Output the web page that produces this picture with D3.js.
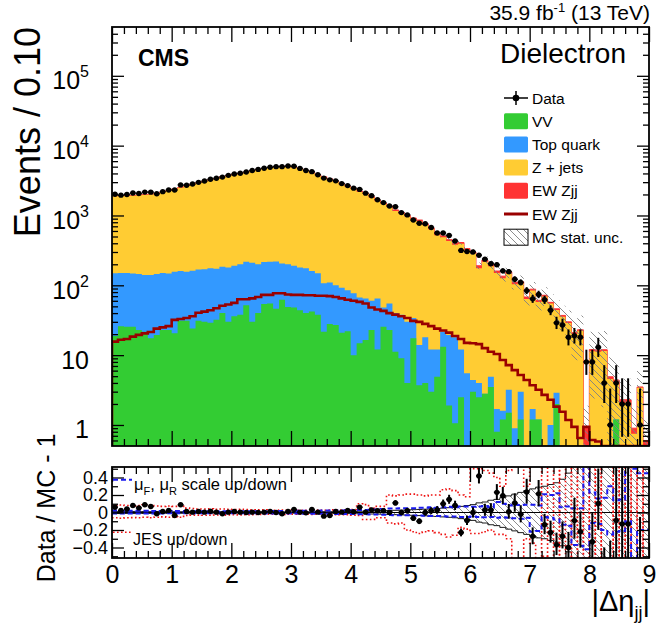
<!DOCTYPE html>
<html>
<head>
<meta charset="utf-8">
<script src="https://cdn.jsdelivr.net/npm/d3@7/dist/d3.min.js"></script>
<style>
  html, body { margin: 0; padding: 0; background: #ffffff; }
  svg { display: block; font-family: "Liberation Sans", Arial, Helvetica, sans-serif; }
</style>
</head>
<body>
<svg id="chart" width="658" height="628"></svg>
<script>
// |Δη_jj| distribution, dielectron channel: 90 bins of width 0.1 between 0 and 9
const etaRange = [0, 9];
const binWidth = 0.1;

// Observed events per bin
const dataCounts = [
  2014, 1954, 2002, 2095, 2064, 2160, 2159, 2049, 2194, 2322,
  2318, 2742, 2709, 2821, 2982, 3112, 3299, 3414, 3546, 3755,
  3923, 4026, 4190, 4398, 4570, 4749, 4903, 5000, 5004, 5106,
  5067, 4719, 4412, 4239, 3835, 3430, 3236, 3134, 2861, 2680,
  2464, 2364, 2088, 1916, 1683, 1530, 1370, 1332, 1100, 1020,
  860, 774, 760, 673, 561, 561, 518, 432, 316, 305,
  300, 270, 237, 204, 197, 161, 157, 122, 110, 84,
  64, 74, 62, 44, 29, 27, 18, 19, 18, 8,
  8, 13, 4, 1, 4, 2, 2, 0, 1, 0
];

// Diboson
const vvYield = [
  18.8, 26, 25.5, 25.5, 23, 21.7, 17.4, 19.5, 23, 23,
  20.5, 31, 31, 24, 31, 30, 29, 32, 40, 30,
  36, 38, 52, 30, 40, 54, 55, 46, 62, 49,
  48, 44, 40, 42, 38, 21.7, 28, 27, 21, 22,
  10, 14.8, 16.5, 23, 12, 25.5, 23, 11.2, 9, 4,
  17.4, 3.7, 4, 3, 4.9, 13.2, 1.9, 1.06, 2.5, 0,
  3, 2.5, 2.8, 3.5, 0.8, 1.2, 1.5, 0, 1.2, 0,
  1.2, 1.2, 0, 0, 2, 0, 0, 0, 0, 0,
  0, 0, 0, 0, 1.2, 0, 0, 0, 0, 0
];

// Top quark (tt + single top)
const topYield = [
  130, 124, 124.5, 122.5, 122, 119.3, 123.6, 125.5, 127, 125,
  136.5, 129, 126, 138, 137, 140, 146, 140, 145, 150,
  154, 162, 166, 180, 160, 161, 163, 174, 144, 151,
  142, 136, 135, 118, 111, 85, 82, 73, 71, 63,
  67, 52, 48.5, 37, 53, 22.5, 32, 28.8, 29, 26,
  16.6, 10.3, 14, 9, 7.1, 8.5, 17.6, 17, 9.5, 5.5,
  1.4, 1.5, 0, 1.4, 0.9, 0.4, 1.7, 0.9, 1.8, 0,
  0.5, 0, 0, 1.0, 0.9, 0, 0, 0, 0, 0,
  0, 0, 0, 0, 0, 0, 0, 0, 0, 0
];

// Drell-Yan Z + jets
const zjetsYield = [
  1735, 1743, 1758, 1774, 1796, 1824, 1858, 1911, 1995, 2096,
  2211, 2327, 2489, 2612, 2742, 2888, 3031, 3181, 3364, 3507,
  3634, 3747, 3909, 4105, 4302, 4442, 4559, 4703, 4797, 4776,
  4637, 4447, 4183, 3868, 3600, 3402, 3170, 2932, 2693, 2473,
  2303, 2105, 1960, 1752, 1540, 1409, 1275, 1122, 1026, 936,
  855, 816, 714, 622, 509, 466, 410, 363, 381, 315,
  281, 172, 215, 182, 148, 125, 145, 103, 104, 63.6,
  82.6, 56.6, 69.3, 53.7, 41.3, 35.5, 28.8, 20, 22.4, 0,
  11.4, 11.2, 11.5, 4.55, 2.9, 2.05, 2.1, 0.75, 3.4, 0.5
];

// Electroweak Zjj signal
const ewZjjYield = [
  15.6, 16.6, 17, 18.4, 19.5, 20.5, 21.5, 24, 25, 26,
  32, 33, 34, 36, 40.5, 42, 44, 47, 51, 53,
  56, 63, 63, 65, 68, 73, 73, 77, 77, 74,
  73, 73, 72, 72, 71, 71, 70, 68, 65, 62,
  60, 58, 55, 48, 45, 43, 40, 38, 36, 34,
  31, 30, 28, 26, 24, 22.5, 21, 18.8, 17, 15,
  14.8, 14.4, 12.6, 11.2, 10.4, 8.5, 7.2, 6.1, 5.2, 4.4,
  3.7, 3.2, 2.7, 2.3, 1.83, 1.55, 1.18, 0.94, 0.65, 0.94,
  0.61, 0.58, 0.45, 0.35, 0.3, 0.25, 0.2, 0.15, 0.1, 0.1
];

// Relative MC statistical uncertainty of the total prediction
const mcStatRel = [
  0.012, 0.012, 0.011, 0.012, 0.011, 0.011, 0.01, 0.01, 0.01, 0.01,
  0.009, 0.009, 0.009, 0.008, 0.008, 0.008, 0.008, 0.008, 0.008, 0.008,
  0.008, 0.008, 0.008, 0.007, 0.007, 0.007, 0.007, 0.007, 0.007, 0.007,
  0.008, 0.008, 0.008, 0.009, 0.009, 0.01, 0.01, 0.011, 0.012, 0.012,
  0.013, 0.014, 0.015, 0.017, 0.018, 0.02, 0.022, 0.025, 0.027, 0.03,
  0.032, 0.035, 0.038, 0.042, 0.045, 0.05, 0.055, 0.06, 0.07, 0.08,
  0.09, 0.11, 0.12, 0.14, 0.15, 0.17, 0.19, 0.21, 0.23, 0.25,
  0.27, 0.29, 0.3, 0.32, 0.34, 0.38, 0.45, 0.6, 0.6, 1.0,
  0.8, 0.8, 0.85, 0.9, 0.9, 1.0, 1.0, 1.0, 0.7, 1.0
];

// mu_F, mu_R scale variations (relative to nominal)
const scaleUpRel = [
  0.022, 0.02, 0.021, 0.02, 0.019, 0.02, 0.018, 0.017, 0.018, 0.017,
  0.016, 0.016, 0.015, 0.015, 0.014, 0.015, 0.014, 0.014, 0.015, 0.014,
  0.014, 0.015, 0.014, 0.014, 0.015, 0.015, 0.016, 0.016, 0.017, 0.018,
  0.018, 0.019, 0.02, 0.02, 0.021, 0.022, 0.022, 0.023, 0.024, 0.025,
  0.026, 0.028, 0.03, 0.032, 0.035, 0.04, 0.045, 0.045, 0.05, 0.05,
  0.05, 0.055, 0.055, 0.06, 0.055, 0.06, 0.065, 0.06, 0.07, 0.07,
  0.065, 0.07, 0.075, 0.06, 0.12, 0.1, 0.08, 0.09, 0.085, 0.09,
  0.09, 0.08, 0.21, 0.2, 0.22, 0.06, 0.07, 0.05, 0.05, 0.65,
  0.23, 0.16, 0.17, 0.3, 0.14, 0.15, 0.6, 0.5, 0.45, 0.45
];
const scaleDownRel = [
  -0.012, -0.01, -0.011, -0.01, -0.01, -0.011, -0.01, -0.009, -0.01, -0.009,
  -0.009, -0.009, -0.008, -0.008, -0.008, -0.008, -0.008, -0.008, -0.009, -0.008,
  -0.008, -0.009, -0.008, -0.009, -0.009, -0.01, -0.01, -0.01, -0.011, -0.011,
  -0.012, -0.012, -0.013, -0.013, -0.014, -0.015, -0.015, -0.016, -0.017, -0.018,
  -0.018, -0.02, -0.02, -0.022, -0.024, -0.025, -0.028, -0.03, -0.03, -0.032,
  -0.035, -0.035, -0.038, -0.04, -0.04, -0.042, -0.045, -0.045, -0.05, -0.05,
  -0.045, -0.05, -0.055, -0.05, -0.06, -0.055, -0.06, -0.065, -0.07, -0.06,
  -0.22, -0.21, -0.05, -0.06, -0.08, -0.14, -0.15, -0.37, -0.38, -0.42,
  -0.12, -0.13, -0.2, -0.25, -0.22, -0.21, -0.1, -0.6, -0.2, -0.2
];

// Jet energy scale variations (relative to nominal)
const jesUpRel = [
  0.08, 0.085, 0.08, 0.075, 0.08, 0.085, 0.08, 0.075, 0.07, 0.075,
  0.07, 0.075, 0.05, 0.045, 0.04, 0.04, 0.042, 0.038, 0.04, 0.036,
  0.035, 0.038, 0.035, 0.032, 0.03, 0.03, 0.028, 0.026, 0.027, 0.025,
  0.026, 0.025, 0.024, 0.026, 0.028, 0.025, 0.027, 0.03, 0.028, 0.032,
  0.035, 0.1, 0.09, 0.05, 0.07, 0.07, 0.2, 0.19, 0.2, 0.21,
  0.21, 0.2, 0.19, 0.2, 0.2, 0.26, 0.27, 0.25, 0.2, 0.18,
  0.5, 0.5, 0.48, 0.45, 0.4, 0.3, 0.48, 0.55, 0.6, 0.3,
  0.55, 0.6, -0.6, 0.6, 0.7, -0.6, 0.6, -0.7, 0.8, -0.8,
  0.8, -0.8, 0.7, 0.8, -0.8, 0.8, -0.8, 0.8, -0.8, 0.8
];
const jesDownRel = [
  -0.06, -0.065, -0.06, -0.058, -0.06, -0.055, -0.06, -0.055, -0.05, -0.055,
  -0.05, -0.055, -0.035, -0.03, -0.03, -0.032, -0.03, -0.028, -0.03, -0.027,
  -0.026, -0.028, -0.025, -0.024, -0.022, -0.022, -0.02, -0.02, -0.021, -0.02,
  -0.02, -0.019, -0.02, -0.021, -0.02, -0.022, -0.022, -0.024, -0.025, -0.026,
  -0.03, -0.035, -0.08, -0.08, -0.06, -0.06, -0.12, -0.13, -0.12, -0.2,
  -0.22, -0.24, -0.22, -0.21, -0.23, -0.25, -0.28, -0.26, -0.17, -0.19,
  -0.24, -0.24, -0.22, -0.2, -0.25, -0.25, -0.3, -0.53, -0.53, -0.3,
  -0.35, -0.6, -0.5, -0.55, 0.6, -0.6, -0.7, 0.6, -0.8, 0.8,
  -0.8, 0.8, -0.7, -0.8, 0.8, -0.8, 0.8, -0.8, 0.8, -0.8
];

// Axis ticks
const xMajorTicks = [0, 1, 2, 3, 4, 5, 6, 7, 8, 9];
const yMainDecades = [1, 10, 100, 1000, 10000, 100000];
const ratioMajorTicks = [-0.4, -0.2, 0, 0.2, 0.4];
const ratioMinorTicks = [-0.5, -0.3, -0.1, 0.1, 0.3, 0.5];

// Legend entries of the main panel
const legendLabels = ["Data", "VV", "Top quark", "Z + jets", "EW Zjj", "EW Zjj", "MC stat. unc."];

// ---------------------------------------------------------------
const svg = d3.select("#chart");
const FONT = '"Liberation Sans", Arial, Helvetica, sans-serif';

const left = 112, right = 649;
const mainTop = 27, mainBottom = 446;
const ratioTop = 467, ratioBottom = 558;

const x = d3.scaleLinear().domain(etaRange).range([left, right]);
const y = d3.scaleLog().domain([0.5, 5e5]).range([mainBottom, mainTop]).clamp(true);
const yr = d3.scaleLinear().domain([-0.52, 0.52]).range([ratioBottom, ratioTop]);

const nBins = dataCounts.length;
const edge = i => etaRange[0] + i * binWidth;
const center = i => edge(i) + binWidth / 2;

const colors = { vv: "#33cc33", top: "#3399ff", zjets: "#ffcc33", ew: "#ff3333", ewLine: "#990000" };

// stacked prediction
const rows = dataCounts.map((_, i) => ({ vv: vvYield[i], top: topYield[i], zjets: zjetsYield[i], ew: ewZjjYield[i] }));
const keys = ["vv", "top", "zjets", "ew"];
const stacked = d3.stack().keys(keys)(rows);
const mcTotal = rows.map((_, i) => stacked[3][i][1]);

// Poisson (approximate Garwood) intervals
const poisLo = n => n > 0 ? n - Math.sqrt(n - 0.25) : 0;
const poisHi = n => n + 1 + Math.sqrt(n + 0.75);

// defs: clip paths and hatch pattern
const defs = svg.append("defs");
defs.append("clipPath").attr("id", "clipMain").append("rect")
  .attr("x", left).attr("y", mainTop).attr("width", right - left).attr("height", mainBottom - mainTop);
defs.append("clipPath").attr("id", "clipRatio").append("rect")
  .attr("x", left).attr("y", ratioTop).attr("width", right - left).attr("height", ratioBottom - ratioTop);
const hatch = defs.append("pattern").attr("id", "hatch")
  .attr("patternUnits", "userSpaceOnUse").attr("width", 7).attr("height", 7);
hatch.append("path").attr("d", "M0,0L7,7M-1,6L1,8M6,-1L8,1")
  .attr("stroke", "#808080").attr("stroke-width", 0.9).attr("fill", "none");

// stepped series helpers
function stepBand(lo, hi) {
  const pts = d3.range(nBins).map(i => ({ e: edge(i), lo: lo(i), hi: hi(i) }));
  pts.push({ e: edge(nBins), lo: lo(nBins - 1), hi: hi(nBins - 1) });
  return pts;
}
function stepLine(v) {
  const pts = d3.range(nBins).map(i => ({ e: edge(i), v: v(i) }));
  pts.push({ e: edge(nBins), v: v(nBins - 1) });
  return pts;
}

// ---------------- main panel ----------------
const gMain = svg.append("g").attr("clip-path", "url(#clipMain)");
const areaMain = d3.area().curve(d3.curveStepAfter)
  .x(d => x(d.e)).y0(d => y(d.lo)).y1(d => y(d.hi));

// each cumulative histogram is filled from the bottom, largest first
[3, 2, 1, 0].forEach(k => {
  const layer = stacked[k];
  gMain.append("path")
    .attr("d", areaMain(stepBand(() => 0, i => layer[i][1])))
    .attr("fill", colors[keys[k]])
    .attr("stroke", k === 3 ? colors.ew : "none")
    .attr("stroke-width", 1);
});

// MC statistical uncertainty band
gMain.append("path")
  .attr("d", areaMain(stepBand(i => mcTotal[i] * (1 - mcStatRel[i]), i => mcTotal[i] * (1 + mcStatRel[i]))))
  .attr("fill", "url(#hatch)");

// EW Zjj overlay (unstacked)
const ewPts = [{ e: edge(0), v: 0 }].concat(stepLine(i => ewZjjYield[i]), [{ e: edge(nBins), v: 0 }]);
gMain.append("path")
  .attr("d", d3.line().curve(d3.curveStepAfter).x(d => x(d.e)).y(d => y(d.v))(ewPts))
  .attr("fill", "none").attr("stroke", colors.ewLine).attr("stroke-width", 2.6);

// data points
const gData = gMain.append("g");
d3.range(nBins).filter(i => dataCounts[i] > 0).forEach(i => {
  const n = dataCounts[i];
  gData.append("line")
    .attr("x1", x(center(i))).attr("x2", x(center(i)))
    .attr("y1", y(poisLo(n))).attr("y2", y(poisHi(n)))
    .attr("stroke", "#000").attr("stroke-width", 2);
  gData.append("line")
    .attr("x1", x(edge(i))).attr("x2", x(edge(i + 1)))
    .attr("y1", y(n)).attr("y2", y(n))
    .attr("stroke", "#000").attr("stroke-width", 1.5);
  gData.append("circle")
    .attr("cx", x(center(i))).attr("cy", y(n)).attr("r", 2.7).attr("fill", "#000");
});

// ---------------- ratio panel ----------------
const gRatio = svg.append("g").attr("clip-path", "url(#clipRatio)");
const areaRatio = d3.area().curve(d3.curveStepAfter)
  .x(d => x(d.e)).y0(d => yr(d.lo)).y1(d => yr(d.hi));
const lineRatio = d3.line().curve(d3.curveStepAfter).x(d => x(d.e)).y(d => yr(d.v));

gRatio.append("path")
  .attr("d", areaRatio(stepBand(i => -mcStatRel[i], i => mcStatRel[i])))
  .attr("fill", "url(#hatch)");
[1, -1].forEach(s => {
  gRatio.append("path")
    .attr("d", lineRatio(stepLine(i => s * mcStatRel[i])))
    .attr("fill", "none").attr("stroke", "#000").attr("stroke-width", 0.9);
});

// zero line
gRatio.append("line")
  .attr("x1", left).attr("x2", right).attr("y1", yr(0)).attr("y2", yr(0))
  .attr("stroke", "#000").attr("stroke-width", 1);

// JES variations
[jesUpRel, jesDownRel].forEach(arr => {
  gRatio.append("path")
    .attr("d", lineRatio(stepLine(i => arr[i])))
    .attr("fill", "none").attr("stroke", "#ee1111").attr("stroke-width", 1.6)
    .attr("stroke-dasharray", "1.6,2.4");
});
// scale variations
[scaleUpRel, scaleDownRel].forEach(arr => {
  gRatio.append("path")
    .attr("d", lineRatio(stepLine(i => arr[i])))
    .attr("fill", "none").attr("stroke", "#1a1aee").attr("stroke-width", 2)
    .attr("stroke-dasharray", "5,3");
});

// data / MC - 1
const gRData = gRatio.append("g");
d3.range(nBins).filter(i => dataCounts[i] > 0 && mcTotal[i] > 0).forEach(i => {
  const n = dataCounts[i], mc = mcTotal[i];
  const r = n / mc - 1;
  gRData.append("line")
    .attr("x1", x(center(i))).attr("x2", x(center(i)))
    .attr("y1", yr(poisLo(n) / mc - 1)).attr("y2", yr(poisHi(n) / mc - 1))
    .attr("stroke", "#000").attr("stroke-width", 2);
  gRData.append("line")
    .attr("x1", x(edge(i))).attr("x2", x(edge(i + 1)))
    .attr("y1", yr(r)).attr("y2", yr(r))
    .attr("stroke", "#000").attr("stroke-width", 1.5);
  gRData.append("circle")
    .attr("cx", x(center(i))).attr("cy", yr(r)).attr("r", 2.7).attr("fill", "#000");
});

// ---------------- axes ----------------
function drawAxis(gen, tx, ty, fontSize) {
  const g = svg.append("g").attr("transform", `translate(${tx},${ty})`).call(gen);
  g.attr("font-family", FONT).attr("font-size", fontSize || 10);
  g.select(".domain").remove();
  g.selectAll(".tick line").attr("stroke", "#000").attr("stroke-width", 1.3);
  g.selectAll(".tick text").attr("fill", "#000");
  return g;
}
const xMinorTicks = d3.range(0, 9.001, 0.2).filter(v => Math.abs(v - Math.round(v)) > 1e-6);
const yMainMinor = [];
[0.1, 1, 10, 100, 1000, 10000, 100000].forEach(d => {
  d3.range(2, 10).forEach(m => { const v = m * d; if (v > 0.5 && v < 5e5) yMainMinor.push(v); });
});

// main panel frame ticks
drawAxis(d3.axisBottom(x).tickValues(xMajorTicks).tickSize(-15).tickFormat(""), 0, mainBottom);
drawAxis(d3.axisBottom(x).tickValues(xMinorTicks).tickSize(-7).tickFormat(""), 0, mainBottom);
drawAxis(d3.axisTop(x).tickValues(xMajorTicks).tickSize(-15).tickFormat(""), 0, mainTop);
drawAxis(d3.axisTop(x).tickValues(xMinorTicks).tickSize(-7).tickFormat(""), 0, mainTop);
drawAxis(d3.axisLeft(y).tickValues(yMainDecades).tickSize(-12).tickFormat(""), left, 0);
drawAxis(d3.axisLeft(y).tickValues(yMainMinor).tickSize(-6).tickFormat(""), left, 0);
drawAxis(d3.axisRight(y).tickValues(yMainDecades).tickSize(-12).tickFormat(""), right, 0);
drawAxis(d3.axisRight(y).tickValues(yMainMinor).tickSize(-6).tickFormat(""), right, 0);

// main y labels with powers of ten
const gYLab = svg.append("g").attr("font-family", FONT).attr("fill", "#000");
yMainDecades.forEach(v => {
  const p = Math.round(Math.log10(v));
  const t = gYLab.append("text").attr("x", 89).attr("y", y(v) + 13.5)
    .attr("text-anchor", "end").attr("font-size", 25);
  if (p === 0) t.text("1");
  else if (p === 1) t.text("10");
  else {
    t.append("tspan").text("10");
    t.append("tspan").attr("font-size", 16).attr("dy", -12).text(String(p));
  }
});

// ratio panel ticks and labels
drawAxis(d3.axisBottom(x).tickValues(xMajorTicks).tickSize(-15).tickPadding(7).tickFormat(d3.format("d")), 0, ratioBottom, 25);
drawAxis(d3.axisBottom(x).tickValues(xMinorTicks).tickSize(-7).tickFormat(""), 0, ratioBottom);
drawAxis(d3.axisTop(x).tickValues(xMajorTicks).tickSize(-15).tickFormat(""), 0, ratioTop);
drawAxis(d3.axisTop(x).tickValues(xMinorTicks).tickSize(-7).tickFormat(""), 0, ratioTop);
drawAxis(d3.axisLeft(yr).tickValues(ratioMajorTicks).tickSize(-12).tickPadding(4)
  .tickFormat(d => d === 0 ? "0" : d3.format(".1f")(d)), left, 0, 18);
drawAxis(d3.axisLeft(yr).tickValues(ratioMinorTicks).tickSize(-6).tickFormat(""), left, 0);
drawAxis(d3.axisRight(yr).tickValues(ratioMajorTicks).tickSize(-12).tickFormat(""), right, 0);
drawAxis(d3.axisRight(yr).tickValues(ratioMinorTicks).tickSize(-6).tickFormat(""), right, 0);

// frames
[[mainTop, mainBottom], [ratioTop, ratioBottom]].forEach(([t, b]) => {
  svg.append("rect").attr("x", left).attr("y", t).attr("width", right - left).attr("height", b - t)
    .attr("fill", "none").attr("stroke", "#000").attr("stroke-width", 1.8);
});

// ---------------- titles ----------------
const txt = svg.append("g").attr("font-family", FONT).attr("fill", "#000");

txt.append("text").attr("transform", "translate(40,27) rotate(-90)")
  .attr("text-anchor", "end").attr("font-size", 36).text("Events / 0.10");
txt.append("text").attr("transform", "translate(55,508) rotate(-90)")
  .attr("text-anchor", "middle").attr("font-size", 25).text("Data / MC - 1");

const xt = txt.append("text").attr("x", 650).attr("y", 611).attr("text-anchor", "end").attr("font-size", 29);
xt.append("tspan").text("|Δη");
xt.append("tspan").attr("font-size", 18).attr("dy", 8).text("jj");
xt.append("tspan").attr("dy", -8).text("|");

const lumi = txt.append("text").attr("x", 650).attr("y", 20).attr("text-anchor", "end").attr("font-size", 21);
lumi.append("tspan").text("35.9 fb");
lumi.append("tspan").attr("font-size", 13).attr("dy", -8).text("-1");
lumi.append("tspan").attr("dy", 8).text(" (13 TeV)");

txt.append("text").attr("x", 138).attr("y", 66).attr("font-size", 23).attr("font-weight", "bold").text("CMS");
txt.append("text").attr("x", 626).attr("y", 63).attr("text-anchor", "end").attr("font-size", 28).text("Dielectron");

// ---------------- legend ----------------
const legY = d3.scalePoint().domain(d3.range(legendLabels.length)).range([98, 237.2]);
const lg = svg.append("g").attr("font-family", FONT);
const bx = 504, bw = 24, bh = 16;
legendLabels.forEach((label, k) => {
  const cy = legY(k);
  lg.append("text").attr("x", 532).attr("y", cy + 5.5).attr("font-size", 15.5).attr("fill", "#000").text(label);
});
// Data marker
lg.append("line").attr("x1", bx).attr("x2", bx + bw).attr("y1", legY(0)).attr("y2", legY(0))
  .attr("stroke", "#000").attr("stroke-width", 1.5);
lg.append("line").attr("x1", bx + bw / 2).attr("x2", bx + bw / 2).attr("y1", legY(0) - 7).attr("y2", legY(0) + 7)
  .attr("stroke", "#000").attr("stroke-width", 1.5);
lg.append("circle").attr("cx", bx + bw / 2).attr("cy", legY(0)).attr("r", 3.3).attr("fill", "#000");
// filled boxes
[[1, colors.vv], [2, colors.top], [3, colors.zjets], [4, colors.ew]].forEach(([k, c]) => {
  lg.append("rect").attr("x", bx).attr("y", legY(k) - bh / 2).attr("width", bw).attr("height", bh)
    .attr("fill", c).attr("rx", 1.5);
});
// EW line
lg.append("line").attr("x1", bx).attr("x2", bx + bw).attr("y1", legY(5)).attr("y2", legY(5))
  .attr("stroke", colors.ewLine).attr("stroke-width", 3);
// hatched box
lg.append("rect").attr("x", bx).attr("y", legY(6) - bh / 2).attr("width", bw).attr("height", bh)
  .attr("fill", "url(#hatch)").attr("stroke", "#000").attr("stroke-width", 1);

// ratio panel legend
const rl = svg.append("g").attr("font-family", FONT).attr("fill", "#000");
rl.append("line").attr("x1", 113).attr("x2", 132).attr("y1", yr(0.375)).attr("y2", yr(0.375))
  .attr("stroke", "#1a1aee").attr("stroke-width", 2).attr("stroke-dasharray", "5,3");
const sl = rl.append("text").attr("x", 134).attr("y", 490).attr("font-size", 16.5);
sl.append("tspan").text("μ");
sl.append("tspan").attr("font-size", 11).attr("dy", 5).text("F");
sl.append("tspan").attr("dy", -5).text(", μ");
sl.append("tspan").attr("font-size", 11).attr("dy", 5).text("R");
sl.append("tspan").attr("dy", -5).text(" scale up/down");
rl.append("line").attr("x1", 113).attr("x2", 131).attr("y1", yr(-0.225)).attr("y2", yr(-0.225))
  .attr("stroke", "#ee1111").attr("stroke-width", 1.6).attr("stroke-dasharray", "1.6,2.4");
rl.append("text").attr("x", 133).attr("y", 545).attr("font-size", 16).text("JES up/down");
</script>
</body>
</html>
